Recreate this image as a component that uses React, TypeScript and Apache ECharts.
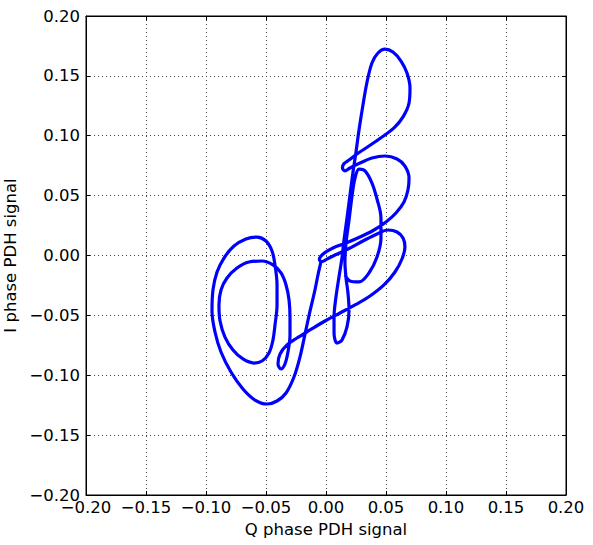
import React, { useEffect, useRef } from "react";
import * as echarts from "echarts";

// Q phase (x) and I phase (y) samples along the trajectory
const qPhase: number[] = [
  -0.0042, -0.0067, -0.0092, -0.0133, -0.0175, -0.0217, -0.0267, -0.0333, -0.0408, -0.0492,
  -0.0592, -0.0692, -0.0792, -0.0875, -0.0925, -0.095, -0.0942, -0.0908, -0.085, -0.0767,
  -0.0667, -0.0575, -0.05, -0.045, -0.0425, -0.0408, -0.0408, -0.0425, -0.0442, -0.0475,
  -0.0533, -0.06, -0.0692, -0.0775, -0.0842, -0.0883, -0.0892, -0.0875, -0.0825, -0.0742,
  -0.0642, -0.0533, -0.0442, -0.0375, -0.0333, -0.0308, -0.03, -0.03, -0.0317, -0.0342,
  -0.0375, -0.04, -0.0383, -0.0325, -0.0242, -0.0133, -0.0008, 0.0117, 0.0242, 0.0367,
  0.0483, 0.0575, 0.0633, 0.0658, 0.0642, 0.0592, 0.0517, 0.0425, 0.0308, 0.0183,
  0.0075, 0.0008, -0.0035, -0.0055, -0.0045, -0.0012, 0.0058, 0.0167, 0.0283, 0.04, 0.05,
  0.0583, 0.065, 0.0683, 0.0692, 0.0658, 0.0592, 0.0492, 0.0383, 0.0283, 0.02,
  0.0158, 0.0137, 0.015, 0.0192, 0.0258, 0.0358, 0.0467, 0.0567, 0.0642, 0.0692, 0.07,
  0.0675, 0.0625, 0.0558, 0.0492, 0.0433, 0.0383, 0.0342, 0.0308, 0.0275, 0.025,
  0.0225, 0.02, 0.0175, 0.015, 0.0133, 0.0108, 0.0083, 0.0067, 0.0067, 0.0092,
  0.0133, 0.0175, 0.0192, 0.0183, 0.0167, 0.0158, 0.0167, 0.0192, 0.0217, 0.0242,
  0.0275, 0.0325, 0.0383, 0.0425, 0.0458, 0.0458, 0.0425, 0.0358, 0.0275, 0.02,
  0.0158,
];

const iPhase: number[] = [
  -0.0054, -0.0163, -0.0288, -0.0463, -0.0656, -0.0848, -0.1015, -0.1148, -0.1215, -0.124,
  -0.1207, -0.1115, -0.0973, -0.0806, -0.0639, -0.0463, -0.0288, -0.0138, -0.0021, 0.0079,
  0.0138, 0.0154, 0.0121, 0.0038, -0.0079, -0.0246, -0.0413, -0.058, -0.0706, -0.0814,
  -0.0881, -0.0898, -0.0864, -0.0789, -0.0681, -0.0547, -0.0413, -0.0288, -0.0188, -0.0104,
  -0.0054, -0.0046, -0.0079, -0.0146, -0.0246, -0.0372, -0.0522, -0.0664, -0.0806, -0.0906,
  -0.0948, -0.0906, -0.0823, -0.0747, -0.0689, -0.0622, -0.0547, -0.048, -0.0413, -0.0338,
  -0.0246, -0.0138, -0.0029, 0.0071, 0.0146, 0.0196, 0.0213, 0.018, 0.0121, 0.0054,
  0.0004, -0.003, -0.005, -0.0035, -0.0008, 0.0022, 0.0063, 0.0104, 0.0154, 0.0213, 0.028,
  0.0355, 0.0447, 0.0547, 0.0647, 0.0747, 0.0806, 0.0831, 0.0814, 0.0772, 0.0731,
  0.0706, 0.0733, 0.0767, 0.0797, 0.0848, 0.0914, 0.099, 0.1065, 0.1157, 0.1273, 0.1399,
  0.1524, 0.1624, 0.1699, 0.1724, 0.1691, 0.1608, 0.1449, 0.1257, 0.1048, 0.0864,
  0.0697, 0.0505, 0.0313, 0.0129, -0.0021, -0.018, -0.0347, -0.0514, -0.0647, -0.0731,
  -0.0706, -0.0597, -0.0455, -0.0313, -0.0188, -0.0054, 0.0104, 0.0296, 0.0497, 0.0647,
  0.0722, 0.0706, 0.0605, 0.0472, 0.0313, 0.0146, -0.0013, -0.0146, -0.0221, -0.0213,
  -0.0163,
];

const AXIS_MIN = -0.2;
const AXIS_MAX = 0.2;
const AXIS_STEP = 0.05;
const X_TITLE = "Q phase PDH signal";
const Y_TITLE = "I phase PDH signal";

const fmt = (v: number) => {
  if (Math.abs(v) < 1e-9) return "0.00";
  return (v < 0 ? "\u2212" : "") + Math.abs(v).toFixed(2);
};

const FONT = "DejaVu Sans";
const FS = 16.5;

export default function App() {
  const ref = useRef<HTMLDivElement>(null);
  useEffect(() => {
    if (!ref.current) return;
    const chart = echarts.init(ref.current, undefined, { renderer: "svg" });
    const points = qPhase.map((q, k) => [q, iPhase[k]]);
    const baseAxis = {
      type: "value" as const,
      min: AXIS_MIN,
      max: AXIS_MAX,
      interval: AXIS_STEP,
      axisLine: { show: true, onZero: false, lineStyle: { color: "#000", width: 1 } },
      axisTick: { show: true, inside: true, length: 4, lineStyle: { color: "#000" } },
    };
    chart.setOption({
      animation: false,
      backgroundColor: "#fff",
      grid: {
        left: 86,
        top: 16,
        right: 27,
        bottom: 50,
        containLabel: false,
        outerBoundsMode: "none",
        show: true,
        borderColor: "#000",
        borderWidth: 1,
        backgroundColor: "transparent",
      },
      xAxis: [
        {
          ...baseAxis,
          position: "bottom",
          name: X_TITLE,
          nameLocation: "middle",
          nameGap: 13,
          nameTextStyle: { color: "#000", fontSize: FS, fontFamily: FONT },
          axisLabel: { color: "#000", fontSize: FS, fontFamily: FONT, margin: 4, formatter: fmt },
          splitLine: { show: true, lineStyle: { color: "#444", width: 1, type: [1, 3] } },
        },
        {
          ...baseAxis,
          position: "top",
          axisLabel: { show: false },
          splitLine: { show: false },
        },
      ],
      yAxis: [
        {
          ...baseAxis,
          position: "left",
          name: Y_TITLE,
          nameLocation: "middle",
          nameGap: 62,
          nameTextStyle: { color: "#000", fontSize: FS, fontFamily: FONT },
          axisLabel: { color: "#000", fontSize: FS, fontFamily: FONT, margin: 6, formatter: fmt },
          splitLine: { show: true, lineStyle: { color: "#444", width: 1, type: [1, 3] } },
        },
        {
          ...baseAxis,
          position: "right",
          axisLabel: { show: false },
          splitLine: { show: false },
        },
      ],
      series: [
        {
          type: "line",
          xAxisIndex: 0,
          yAxisIndex: 0,
          data: points,
          showSymbol: false,
          smooth: 0.35,
          lineStyle: { color: "#0000ff", width: 3.2 },
          clip: true,
        },
      ],
    });
    return () => chart.dispose();
  }, []);
  return (
    <div
      ref={ref}
      style={{ position: "absolute", left: 0, top: 0, width: 593, height: 545 }}
    />
  );
}
